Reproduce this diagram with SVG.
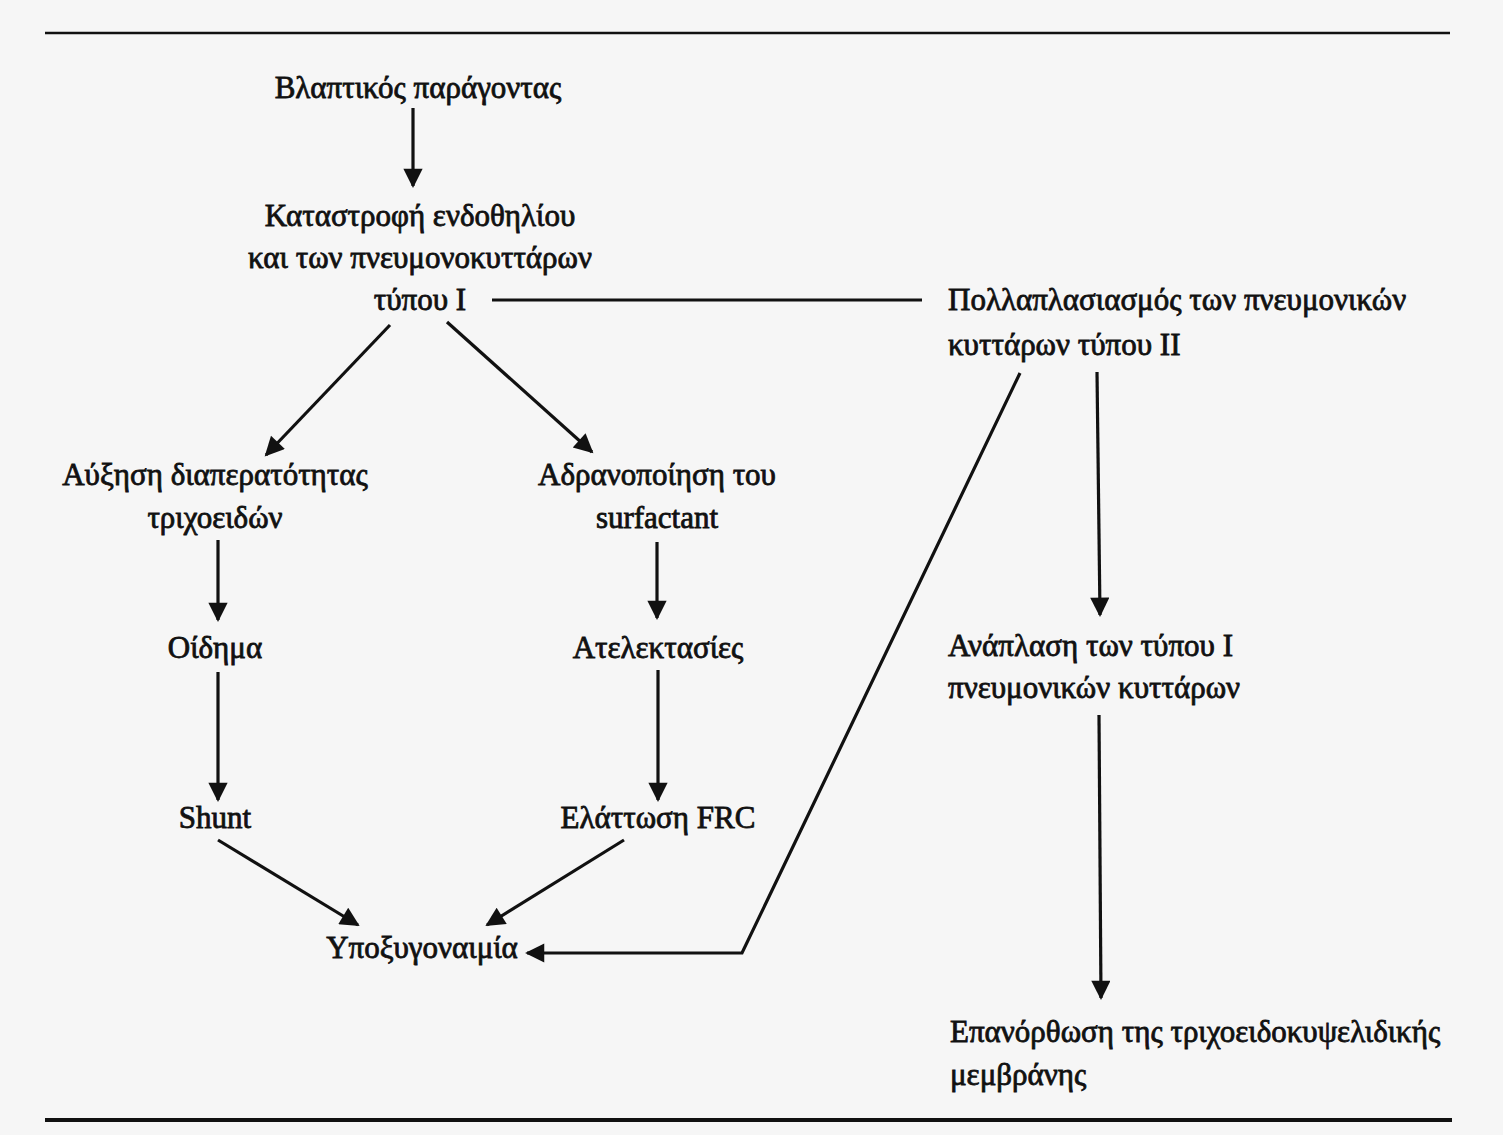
<svg xmlns="http://www.w3.org/2000/svg" width="1503" height="1135" viewBox="0 0 1503 1135">
<style>
text{font-family:"Liberation Serif","DejaVu Serif",serif;font-size:31px;fill:#111;stroke:#111;stroke-width:0.8px}
.c{text-anchor:middle}
.ln{stroke:#111;stroke-width:3.2;fill:none}
</style>
<defs>
<marker id="ah" viewBox="0 0 10 10" refX="9" refY="5" markerWidth="7" markerHeight="6" markerUnits="strokeWidth" orient="auto">
<path d="M0,0 L10,5 L0,10 Z" fill="#111"/>
</marker>
</defs>
<rect width="1503" height="1135" fill="#f6f6f6"/>
<line x1="45" y1="33" x2="1450" y2="33" stroke="#111" stroke-width="2.5"/>
<line x1="45" y1="1120" x2="1452" y2="1120" stroke="#111" stroke-width="4"/>
<g id="connectors">
<line class="ln" x1="413" y1="108" x2="413" y2="186" marker-end="url(#ah)"/>
<line class="ln" x1="492" y1="300" x2="922" y2="300"/>
<line class="ln" x1="390" y1="325" x2="266" y2="455" marker-end="url(#ah)"/>
<line class="ln" x1="447" y1="322" x2="592" y2="452" marker-end="url(#ah)"/>
<line class="ln" x1="218" y1="540" x2="218" y2="620" marker-end="url(#ah)"/>
<line class="ln" x1="657" y1="542" x2="657" y2="618" marker-end="url(#ah)"/>
<line class="ln" x1="218" y1="672" x2="218" y2="800" marker-end="url(#ah)"/>
<line class="ln" x1="658" y1="670" x2="658" y2="800" marker-end="url(#ah)"/>
<line class="ln" x1="218" y1="840" x2="358" y2="925" marker-end="url(#ah)"/>
<line class="ln" x1="624" y1="840" x2="487" y2="925" marker-end="url(#ah)"/>
<polyline class="ln" points="1020,373 742,953 527,953" marker-end="url(#ah)"/>
<line class="ln" x1="1097" y1="372" x2="1100" y2="615" marker-end="url(#ah)"/>
<line class="ln" x1="1099" y1="715" x2="1101" y2="998" marker-end="url(#ah)"/>
</g>
<g id="n1"><text class="c" x="418" y="98">Βλαπτικός παράγοντας</text></g>
<g id="n2"><text class="c" x="420" y="226">Καταστροφή ενδοθηλίου</text><text class="c" x="420" y="268">και των πνευμονοκυττάρων</text><text class="c" x="420" y="310">τύπου Ι</text></g>
<g id="n3"><text x="948" y="310">Πολλαπλασιασμός των πνευμονικών</text><text x="948" y="355">κυττάρων τύπου ΙΙ</text></g>
<g id="n4"><text class="c" x="215" y="485">Αύξηση διαπερατότητας</text><text class="c" x="215" y="528">τριχοειδών</text></g>
<g id="n5"><text class="c" x="657" y="485">Αδρανοποίηση του</text><text class="c" x="657" y="528">surfactant</text></g>
<g id="n6"><text class="c" x="215" y="658">Οίδημα</text></g>
<g id="n7"><text class="c" x="658" y="658">Ατελεκτασίες</text></g>
<g id="n8"><text class="c" x="215" y="828">Shunt</text></g>
<g id="n9"><text class="c" x="658" y="828">Ελάττωση FRC</text></g>
<g id="n10"><text class="c" x="422" y="958">Υποξυγοναιμία</text></g>
<g id="n11"><text x="948" y="656">Ανάπλαση των τύπου Ι</text><text x="948" y="698">πνευμονικών κυττάρων</text></g>
<g id="n12"><text x="950" y="1042">Επανόρθωση της τριχοειδοκυψελιδικής</text><text x="950" y="1085">μεμβράνης</text></g>
</svg>
